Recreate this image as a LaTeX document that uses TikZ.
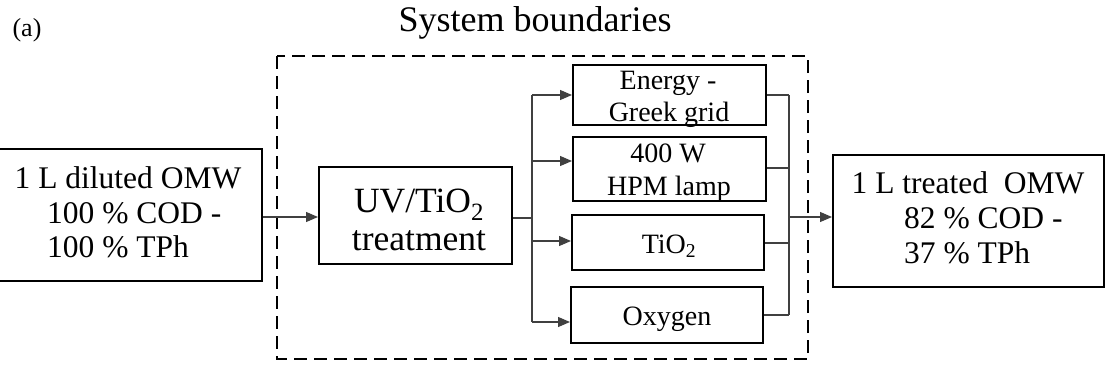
\documentclass[tikz,border=0pt]{standalone}
\usepackage{fontspec}
\setmainfont{Liberation Serif}
\usetikzlibrary{arrows.meta}
\begin{document}
\begin{tikzpicture}[x=1pt,y=-1pt,
  box/.style={draw=black,line width=2pt,inner sep=0pt},
  conn/.style={draw=black!75,line width=1.2pt},
  arr/.style={conn,-{Triangle[length=12pt,width=10pt]}},
  txt/.style={inner sep=0pt,anchor=base},
  txtl/.style={inner sep=0pt,anchor=base west},
  big/.style={font=\fontsize{31.5}{36}\selectfont},
  mid/.style={font=\fontsize{28}{32}\selectfont},
]
\useasboundingbox (0,0) rectangle (1105,372);
% labels
\node[txt,font=\fontsize{26}{30}\selectfont] (lbla) at (27,36) {(a)};
\node[txt,font=\fontsize{36}{40}\selectfont] (title) at (535,31) {System boundaries};
% system boundary
\draw[line width=2pt,dash pattern=on 13pt off 7pt] (277,56) rectangle (808,359);
% left box
\node[box,minimum width=264pt,minimum height=132pt] (in) at (130,215) {};
\node[txt,big] (in1) at (128,188) {1 L diluted OMW};
\node[txtl,big] (in2) at (47,223) {100 \% COD -};
\node[txtl,big] (in3) at (47,257) {100 \% TPh};
% UV box
\node[box,minimum width=193pt,minimum height=97pt] (uv) at (415.5,215.5) {};
\node[inner sep=0pt,align=center,font=\fontsize{35.5}{37.5}\selectfont] (uv1) at (419,220) {UV/TiO\textsubscript{2}\\treatment};
% branch boxes
\node[box,minimum width=193pt,minimum height=60pt] (en) at (669.5,95) {};
\node[txt,mid] (en1) at (668,89) {Energy -};
\node[txt,mid] (en2) at (669,121) {Greek grid};
\node[box,minimum width=193pt,minimum height=64pt] (la) at (669.5,169) {};
\node[txt,mid] (la1) at (668,162) {400 W};
\node[txt,mid] (la2) at (669,195) {HPM lamp};
\node[box,minimum width=192pt,minimum height=55pt] (ti) at (668,242.5) {};
\node[txt,mid] (ti1) at (669,253) {TiO\textsubscript{2}};
\node[box,minimum width=192pt,minimum height=56pt] (ox) at (667,315) {};
\node[txt,mid] (ox1) at (667,325) {Oxygen};
% right box
\node[box,minimum width=271pt,minimum height=132pt] (out) at (968.5,221) {};
\node[txt,big] (out1) at (968,193) {1 L treated\ \ OMW};
\node[txtl,big] (out2) at (904,228) {82 \% COD -};
\node[txtl,big] (out3) at (904,263) {37 \% TPh};
% connectors
\draw[arr] (in.east |- 0,217) -- (uv.west |- 0,217);
\coordinate (bx) at (532,218);
\draw[conn] (uv.east |- bx) -- (bx);
\draw[conn] (bx |- 0,95) -- (bx |- 0,322);
\draw[arr] (bx |- 0,95) -- (en.west |- 0,95);
\draw[arr] (bx |- 0,161) -- (la.west |- 0,161);
\draw[arr] (bx |- 0,241) -- (ti.west |- 0,241);
\draw[arr] (bx |- 0,322) -- (ox.west |- 0,322);
\coordinate (cx) at (789,217);
\draw[conn] (en.east |- 0,95) -- (cx |- 0,95);
\draw[conn] (la.east |- 0,168) -- (cx |- 0,168);
\draw[conn] (ti.east |- 0,243) -- (cx |- 0,243);
\draw[conn] (ox.east |- 0,315) -- (cx |- 0,315);
\draw[conn] (cx |- 0,95) -- (cx |- 0,315);
\draw[arr] (cx) -- (out.west |- cx);
\end{tikzpicture}
\end{document}
